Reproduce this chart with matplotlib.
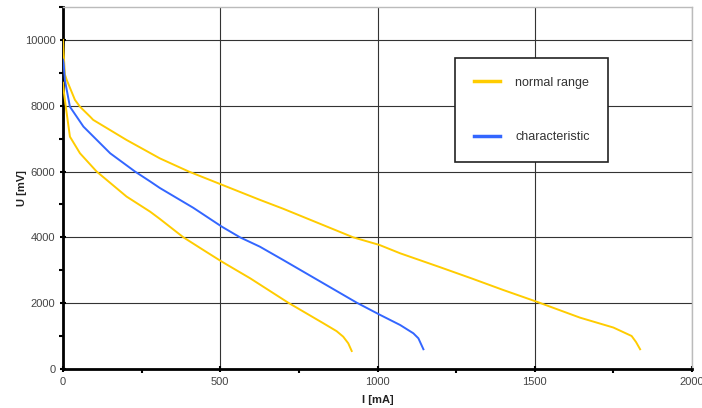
import matplotlib
matplotlib.use("Agg")
import matplotlib.pyplot as plt
from matplotlib.ticker import MultipleLocator

plt.rcParams['font.family'] = ['Liberation Sans', 'DejaVu Sans']

# Upper boundary of normal range
upper_x = [0, 2, 6, 12, 38, 54, 86, 96, 202, 308, 400, 505, 626, 700, 923, 1006, 1072, 1200, 1300, 1400, 1506, 1644, 1750, 1808, 1822, 1835]
upper_y = [10000, 9600, 8950, 8780, 8176, 7970, 7670, 7570, 6960, 6400, 6000, 5600, 5140, 4870, 4000, 3770, 3516, 3090, 2750, 2400, 2045, 1560, 1260, 1003, 820, 600]

# Lower boundary of normal range
lower_x = [0, 3, 6, 22, 54, 107, 202, 277, 308, 383, 446, 505, 595, 716, 828, 870, 891, 907, 918]
lower_y = [8700, 8400, 8176, 7060, 6555, 6000, 5240, 4781, 4560, 4000, 3617, 3262, 2757, 2015, 1389, 1150, 982, 781, 547]

# Characteristic
char_x = [0, 2, 6, 22, 65, 150, 229, 277, 308, 414, 505, 563, 626, 700, 934, 1006, 1072, 1114, 1130, 1146]
char_y = [9400, 9300, 8780, 7970, 7365, 6555, 6000, 5700, 5500, 4900, 4325, 4000, 3717, 3313, 2015, 1655, 1337, 1085, 933, 600]

legend_labels = ["normal range", "characteristic"]
yellow = '#FFCC00'
blue = '#3366FF'

fig = plt.figure(figsize=(7.02, 4.08), dpi=100)
ax = fig.add_axes([63/702, 39/408, (692-63)/702, (369-7)/408])

ax.plot(upper_x, upper_y, color=yellow, lw=1.4, label=legend_labels[0], zorder=3)
ax.plot(lower_x, lower_y, color=yellow, lw=1.4, zorder=3)
ax.plot(char_x, char_y, color=blue, lw=1.4, label=legend_labels[1], zorder=3)

ax.set_xlim(0, 2000)
ax.set_ylim(0, 11000)
ax.xaxis.set_major_locator(MultipleLocator(500))
ax.xaxis.set_minor_locator(MultipleLocator(250))
ax.set_yticks([0, 2000, 4000, 6000, 8000, 10000])
ax.yaxis.set_minor_locator(MultipleLocator(1000))

ax.grid(True, which='major', color='#333333', lw=0.8)
ax.set_axisbelow(True)

for s in ['top', 'right']:
    ax.spines[s].set_color('#BBBBBB')
    ax.spines[s].set_linewidth(1.0)
for s in ['left', 'bottom']:
    ax.spines[s].set_color('black')
    ax.spines[s].set_linewidth(2.0)

ax.tick_params(which='major', direction='inout', length=5, width=1.5, color='black',
               labelsize=8, labelcolor='#444444', pad=3)
ax.tick_params(which='minor', direction='out', length=3, width=1.5, color='black')

ax.set_xlabel('I [mA]', fontsize=8, fontweight='bold', color='#222222', labelpad=6)
ax.set_ylabel('U [mV]', fontsize=8, fontweight='bold', color='#222222', labelpad=-2)

leg = ax.legend(loc='upper left', bbox_to_anchor=((455-63)/629, (369-58)/362),
                fontsize=9, frameon=True, fancybox=False, framealpha=1,
                edgecolor='#222222', borderpad=1.5, labelspacing=3.4,
                handlelength=2.1, handletextpad=1.2, borderaxespad=0)
leg.set_zorder(5)
leg.get_frame().set_linewidth(1.2)
for line in leg.get_lines():
    line.set_linewidth(2.5)
for t in leg.get_texts():
    t.set_color('#333333')

fig.savefig('out.png', dpi=100)
